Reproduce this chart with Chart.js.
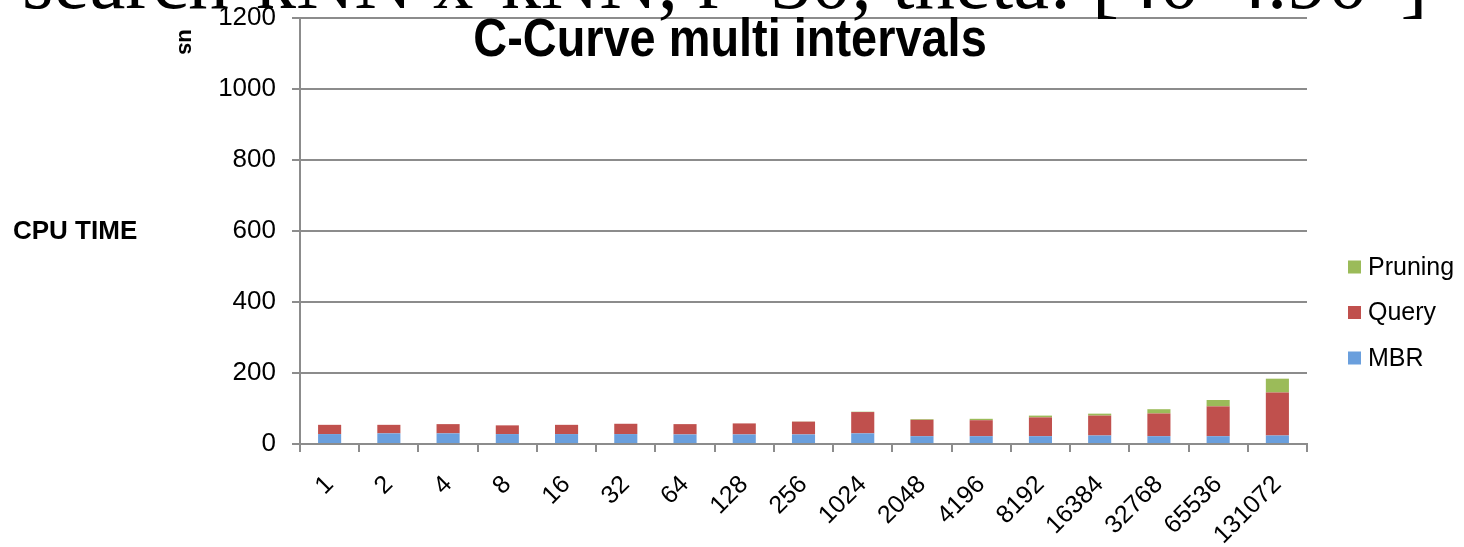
<!DOCTYPE html>
<html>
<head>
<meta charset="utf-8">
<script src="https://cdn.jsdelivr.net/npm/chart.js@4/dist/chart.umd.min.js"></script>
<style>
  html, body { margin: 0; padding: 0; background: #ffffff; }
  #wrap { width: 1464px; height: 547px; position: relative; }
</style>
</head>
<body>
<div id="wrap"><canvas id="c" width="1464" height="547"></canvas></div>
<script>
// Interval counts on the x axis
const intervals = ['1', '2', '4', '8', '16', '32', '64', '128', '256', '1024',
                   '2048', '4196', '8192', '16384', '32768', '65536', '131072'];

// CPU time per stage (us)
const mbrTime     = [28, 30, 30, 28, 28, 28, 27, 27, 27, 30, 22, 22, 22, 24, 22, 22, 24];
const queryTime   = [26, 24, 26, 24.5, 26, 29, 29, 31, 36, 60, 46, 45, 53, 56, 64, 84, 121];
const pruningTime = [0, 0, 0, 0, 0, 0, 0, 0, 0.5, 1, 2, 4, 5, 5.5, 12, 18, 39];

// Value axis ticks
const yTicks = [0, 200, 400, 600, 800, 1000, 1200];

const chartTitle = 'C-Curve multi intervals';
const headerText = 'search-kNN x-kNN, r=30, theta: [40-4.90\u00B0]';
const unitLabel  = 'us';
const axisLabel  = 'CPU TIME';

const SANS  = '"Liberation Sans", Arial, sans-serif';
const SERIF = '"Liberation Serif", "Times New Roman", serif';
const GRID  = '#8c8c8c';

// Extra text and the legend, painted over the chart
const overlay = {
  id: 'overlay',
  afterDraw(chart) {
    const ctx = chart.ctx;
    ctx.save();
    ctx.fillStyle = '#000';

    // serif header line, mostly above the canvas edge
    ctx.textAlign = 'left';
    ctx.textBaseline = 'alphabetic';
    ctx.font = '70px ' + SERIF;
    const hw = ctx.measureText(headerText).width;
    const hs = 70 * 1405 / hw;
    ctx.font = hs.toFixed(1) + 'px ' + SERIF;
    ctx.fillText(headerText, 22, 8);

    // chart title
    ctx.save();
    ctx.translate(730, 56);
    ctx.scale(0.885, 1);
    ctx.textAlign = 'center';
    ctx.font = 'bold 53px ' + SANS;
    ctx.fillText(chartTitle, 0, 0);
    ctx.restore();

    // unit label, vertical
    ctx.save();
    ctx.translate(185, 42);
    ctx.rotate(Math.PI / 2);
    ctx.textAlign = 'center';
    ctx.textBaseline = 'middle';
    ctx.font = 'bold 22px ' + SANS;
    ctx.fillText(unitLabel, 0, 0);
    ctx.restore();

    // axis caption
    ctx.textAlign = 'left';
    ctx.textBaseline = 'alphabetic';
    ctx.font = 'bold 26px ' + SANS;
    ctx.fillText(axisLabel, 13, 239);

    // legend, top item is the last dataset
    const sets = chart.data.datasets.slice().reverse();
    ctx.textBaseline = 'middle';
    ctx.font = '25px ' + SANS;
    sets.forEach((ds, i) => {
      const cy = 267 + i * 45.5;
      ctx.fillStyle = ds.backgroundColor;
      ctx.fillRect(1348, cy - 6.5, 13, 13);
      ctx.fillStyle = '#000';
      ctx.fillText(ds.label, 1368, cy + 1);
    });

    ctx.restore();
  }
};

new Chart(document.getElementById('c'), {
  type: 'bar',
  data: {
    labels: intervals,
    datasets: [
      { label: 'MBR',     data: mbrTime,     backgroundColor: '#6a9fdd' },
      { label: 'Query',   data: queryTime,   backgroundColor: '#c0504d' },
      { label: 'Pruning', data: pruningTime, backgroundColor: '#9bbb59' }
    ]
  },
  options: {
    responsive: false,
    animation: false,
    devicePixelRatio: 1,
    layout: { padding: { top: 18, right: 157, left: 0, bottom: 0 } },
    datasets: {
      bar: { categoryPercentage: 0.39, barPercentage: 1, borderWidth: 0 }
    },
    plugins: {
      legend: { display: false },
      title: { display: false },
      tooltip: { enabled: false }
    },
    scales: {
      x: {
        stacked: true,
        afterFit(s) { s.height = 103; },
        ticks: {
          color: '#000',
          font: { family: SANS, size: 25 },
          maxRotation: 45,
          minRotation: 45,
          autoSkip: false,
          padding: 18
        },
        grid: {
          offset: true,
          drawOnChartArea: false,
          drawTicks: true,
          tickLength: 8,
          color: GRID,
          lineWidth: 2
        },
        border: { color: GRID, width: 2 }
      },
      y: {
        stacked: true,
        min: 0,
        max: 1200,
        afterFit(s) {
          s.width = 300;
          s.paddingTop = 0;
          s.paddingBottom = 0;
        },
        afterBuildTicks(s) { s.ticks = yTicks.map(v => ({ value: v })); },
        ticks: {
          color: '#000',
          font: { family: SANS, size: 26 },
          padding: 16,
          callback: v => String(v)
        },
        grid: {
          color: GRID,
          lineWidth: 2,
          drawTicks: true,
          tickLength: 8
        },
        border: { color: GRID, width: 2 }
      }
    }
  },
  plugins: [overlay]
});
</script>
</body>
</html>
